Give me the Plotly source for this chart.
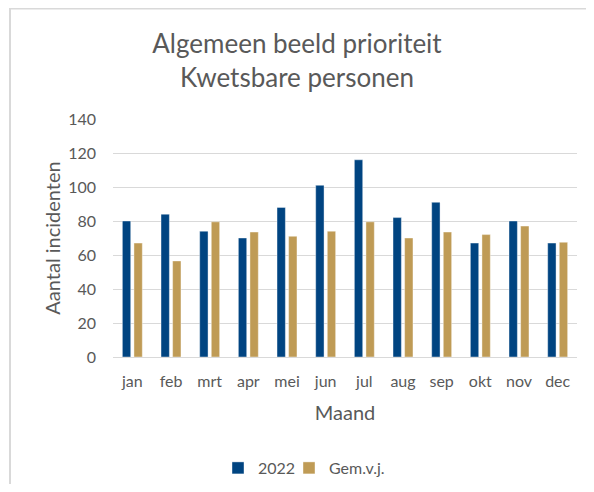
import plotly.graph_objects as go

months = ["jan", "feb", "mrt", "apr", "mei", "jun", "jul", "aug", "sep", "okt", "nov", "dec"]
values_2022 = [80, 84, 74, 70, 88, 101, 116, 82, 91, 67, 80, 67]
values_gem = [67, 56.5, 79.5, 73.5, 71, 74, 79.5, 70, 73.5, 72, 77, 67.5]
y_ticks = [0, 20, 40, 60, 80, 100, 120, 140]

FONT = "Lato"
GREY = "#595959"

fig = go.Figure()
fig.add_trace(go.Bar(name="2022", x=months, y=values_2022, legend="legend",
                     marker=dict(color="#004481", line=dict(color="rgba(255,255,255,0.5)", width=0.8))))
fig.add_trace(go.Bar(name="Gem.v.j.", x=months, y=values_gem, legend="legend2",
                     marker=dict(color="#BF9B55", line=dict(color="rgba(255,255,255,0.5)", width=0.8))))

# page body has an 8px margin: work in viewport coordinates and shift
OFF = 8
W, H = 594 - 2 * OFF, 492 - 2 * OFF
VL, VR, VT, VB = 113, 577, 119, 357          # plot area in viewport pixels
L, T = VL - OFF, VT - OFF
R, B = W - (VR - OFF), H - (VB - OFF)
pw, ph = W - L - R, H - T - B

def px(x):  # viewport x -> paper
    return (x - VL) / pw

def py(y):  # viewport y -> paper
    return (VB - y) / ph

legend_style = dict(orientation="h", yanchor="middle", xanchor="left",
                    bgcolor="rgba(0,0,0,0)",
                    font=dict(family=FONT, size=16, color=GREY), itemwidth=30)

fig.update_layout(
    width=W, height=H,
    margin=dict(l=L, r=R, t=T, b=B, autoexpand=False),
    paper_bgcolor="white", plot_bgcolor="white",
    barmode="group", bargap=0.4, bargroupgap=0.28,
    font=dict(family=FONT, color=GREY, size=16),
    title=dict(text="Algemeen beeld prioriteit<br>Kwetsbare personen",
               x=289 / W, xanchor="center", y=1 - 45 / H, yanchor="middle",
               font=dict(family=FONT, size=26, color=GREY)),
    legend=dict(x=px(218), y=py(468), **legend_style),
    legend2=dict(x=px(289), y=py(468), **legend_style),
    showlegend=True,
    shapes=[
        dict(type="line", xref="paper", yref="paper",
             x0=px(10), x1=px(10), y0=py(520), y1=py(OFF),
             line=dict(color="#d9d9d9", width=2)),
        dict(type="line", xref="paper", yref="paper",
             x0=px(9), x1=px(620), y0=py(OFF + 0.5), y1=py(OFF + 0.5),
             line=dict(color="#d9d9d9", width=2)),
    ],
)
fig.update_xaxes(
    automargin=False,
    title=dict(text="Maand", standoff=16, font=dict(family=FONT, size=20, color=GREY)),
    showgrid=False, showline=True, linecolor="#d9d9d9", linewidth=1,
    ticks="", tickfont=dict(family=FONT, size=16, color=GREY), ticklabelstandoff=10,
)
fig.update_yaxes(
    automargin=False,
    title=dict(text="Aantal incidenten", standoff=2, font=dict(family=FONT, size=20, color=GREY)),
    range=[0, 140], tickvals=y_ticks, showgrid=True, gridcolor="#d9d9d9", gridwidth=1,
    zeroline=False, showline=False, ticks="",
    tickfont=dict(family=FONT, size=16, color=GREY), ticklabelstandoff=16,
)

fig.write_html("out.html")
